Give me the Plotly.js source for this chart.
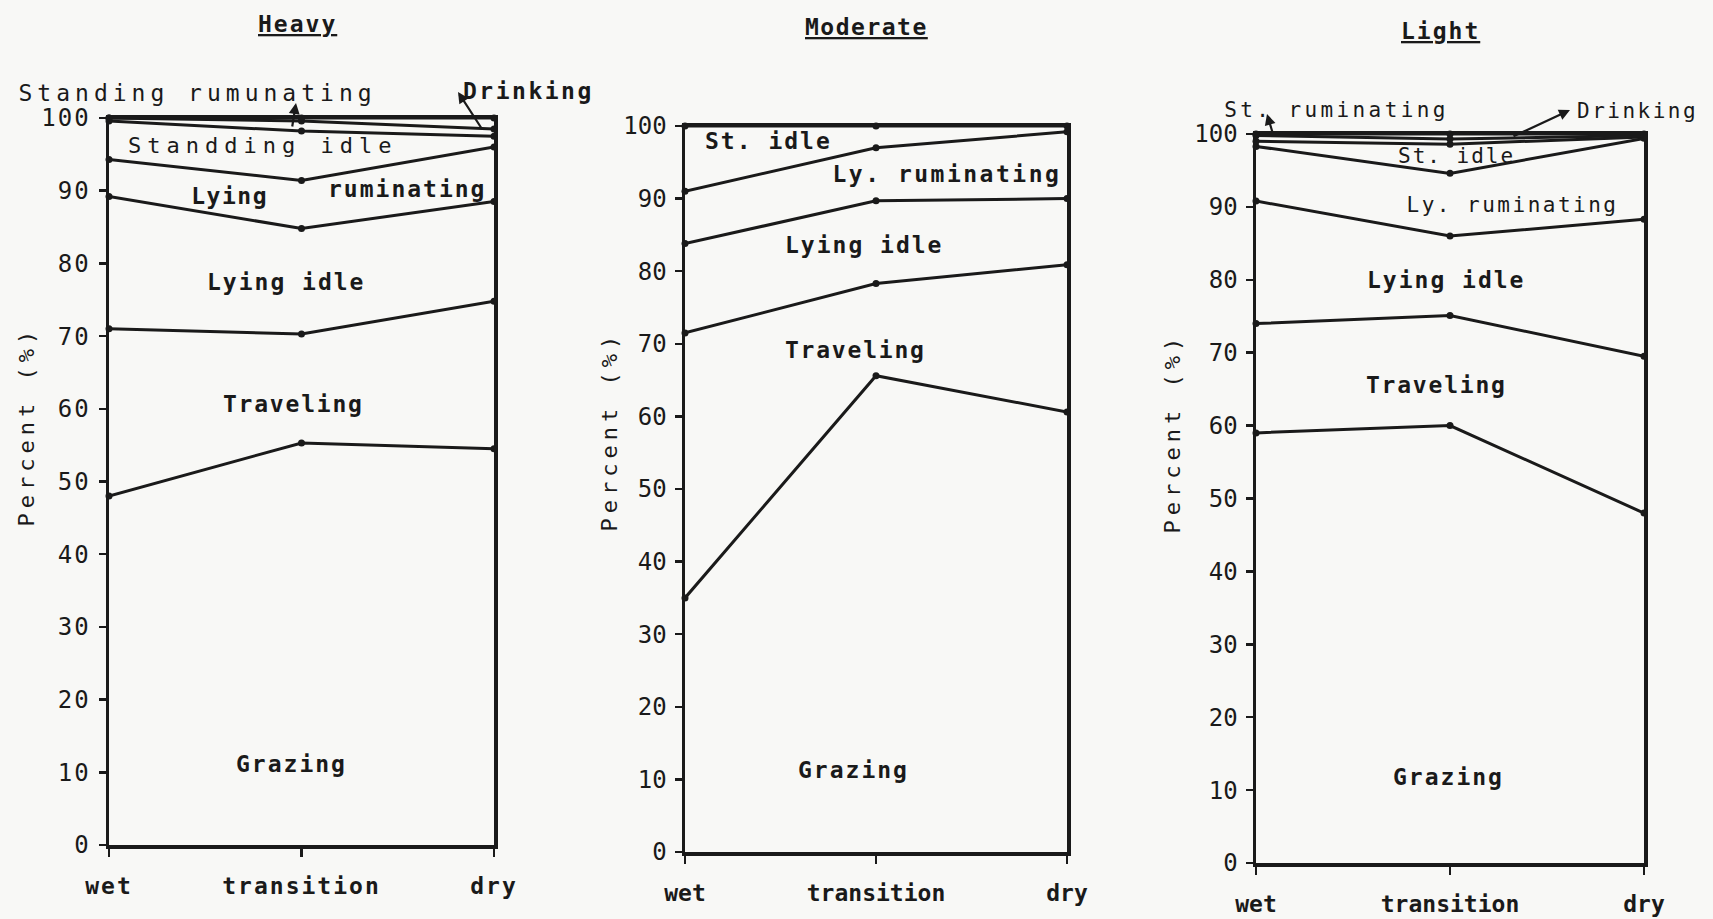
<!DOCTYPE html>
<html>
<head>
<meta charset="utf-8">
<script src="https://cdn.plot.ly/plotly-3.0.1.min.js"></script>
<style>
html,body{margin:0;padding:0;background:#f8f8f6;}
#chart .xtick text{letter-spacing:2px;}
#chart .ytick text{letter-spacing:2px;}
</style>
</head>
<body>
<div id="chart" style="width:1713px;height:919px;"></div>
<script>
// ---------------- DATA ----------------
const seasons = ['wet', 'transition', 'dry'];
const seasonPos = [0, 1, 2];
const yTicks = [0, 10, 20, 30, 40, 50, 60, 70, 80, 90, 100];

// Heavy grazing pressure (percent of time, stacked bottom to top)
const heavyNames = ['Grazing', 'Traveling', 'Lying idle', 'Lying ruminating', 'Standing idle', 'Standing ruminating', 'Drinking'];
const heavyGrazing = [48.0, 55.3, 54.5];
const heavyTraveling = [23.0, 15.0, 20.3];
const heavyLyingIdle = [18.2, 14.5, 13.7];
const heavyLyingRum = [5.1, 6.6, 7.5];
const heavyStandIdle = [5.3, 6.8, 1.5];
const heavyStandRum = [0.4, 1.4, 1.0];
const heavyDrinking = [0.0, 0.4, 1.5];

// Moderate grazing pressure
const moderateNames = ['Grazing', 'Traveling', 'Lying idle', 'Ly. ruminating', 'St. idle'];
const moderateGrazing = [35.0, 65.6, 60.6];
const moderateTraveling = [36.5, 12.7, 20.3];
const moderateLyingIdle = [12.3, 11.4, 9.1];
const moderateLyingRum = [7.2, 7.3, 9.2];
const moderateStandIdle = [9.0, 3.0, 0.8];

// Light grazing pressure
const lightNames = ['Grazing', 'Traveling', 'Lying idle', 'Ly. ruminating', 'St. idle', 'St. ruminating', 'Drinking'];
const lightGrazing = [59.0, 60.0, 48.0];
const lightTraveling = [15.0, 15.1, 21.5];
const lightLyingIdle = [16.8, 10.9, 18.8];
const lightLyingRum = [7.5, 8.6, 11.1];
const lightStandIdle = [0.7, 4.0, 0.2];
const lightStandRum = [0.8, 0.7, 0.2];
const lightDrinking = [0.2, 0.7, 0.2];

// ---------------- STYLE ----------------
const W = 1713, H = 919;
const INK = '#1a1a1a';
const MONO = '"DejaVu Sans Mono", "Liberation Mono", monospace';

function panelTraces(names, series, group, xa, ya) {
  return series.map((vals, i) => ({
    type: 'scatter',
    x: seasonPos,
    y: vals,
    name: names[i],
    stackgroup: group,
    fill: 'none',
    mode: 'lines+markers',
    line: {color: INK, width: 3},
    marker: {color: INK, size: 7},
    cliponaxis: false,
    xaxis: xa,
    yaxis: ya,
    showlegend: false,
    hovertemplate: names[i] + ': %{y:.1f}%<extra></extra>'
  }));
}

const data = [].concat(
  panelTraces(heavyNames, [heavyGrazing, heavyTraveling, heavyLyingIdle, heavyLyingRum, heavyStandIdle, heavyStandRum, heavyDrinking], 'heavy', 'x', 'y'),
  panelTraces(moderateNames, [moderateGrazing, moderateTraveling, moderateLyingIdle, moderateLyingRum, moderateStandIdle], 'moderate', 'x2', 'y2'),
  panelTraces(lightNames, [lightGrazing, lightTraveling, lightLyingIdle, lightLyingRum, lightStandIdle, lightStandRum, lightDrinking], 'light', 'x3', 'y3')
);

function xAxis(left, right, anchor) {
  return {
    domain: [left / W, right / W], anchor: anchor, range: [0, 2],
    tickvals: seasonPos, ticktext: seasons,
    showline: true, mirror: true, linecolor: INK, linewidth: 3.5,
    ticks: 'outside', ticklen: 8, tickwidth: 2.5, tickcolor: INK,
    ticklabelstandoff: 10,
    tickfont: {family: MONO, size: 23, color: INK, weight: 'bold'},
    showgrid: false, zeroline: false, automargin: false, fixedrange: true
  };
}
function yAxis(top, bottom, anchor) {
  return {
    domain: [(H - bottom) / H, (H - top) / H], anchor: anchor, range: [0, 100],
    tickvals: yTicks,
    showline: true, mirror: true, linecolor: INK, linewidth: 3.5,
    ticks: 'outside', ticklen: 7, tickwidth: 2.5, tickcolor: INK,
    ticklabelstandoff: 3,
    tickfont: {family: MONO, size: 24, color: INK},
    showgrid: false, zeroline: false, automargin: false, fixedrange: true
  };
}

// extra letter spacing (px) to imitate the typewriter lettering
const spacing = {
  'Standing rumunating': 5, 'Standding idle': 6, 'Percent (%)': 5,
  'St. ruminating': 3.4, 'Drinking': 2.5, 'Ly. ruminating': 2.5, 'St. idle': 2,
  'Lying idle': 2, 'Traveling': 1.8, 'Grazing': 2, 'ruminating': 2, 'Lying': 1.5,
  'Heavy': 2, 'Moderate': 1.5, 'Light': 2
};

function lab(text, px, py, size, bold) {
  return {xref: 'paper', yref: 'paper', x: px / W, y: 1 - py / H, text: text,
    showarrow: false, xanchor: 'center', yanchor: 'middle',
    font: {family: MONO, size: size || 23, color: INK, weight: bold === false ? 'normal' : 'bold'}};
}
function arrow(hx, hy, tx, ty) {
  // head at (hx,hy) near the label, tail on the line at (tx,ty)
  return {xref: 'paper', yref: 'paper', x: hx / W, y: 1 - hy / H, text: '',
    showarrow: true, axref: 'pixel', ayref: 'pixel', ax: tx - hx, ay: ty - hy,
    arrowhead: 2, arrowsize: 1, arrowwidth: 2.2, arrowcolor: INK, standoff: 0};
}
function ytitle(px, py) {
  return {xref: 'paper', yref: 'paper', x: px / W, y: 1 - py / H, text: 'Percent (%)',
    textangle: -90, showarrow: false, xanchor: 'center', yanchor: 'middle',
    font: {family: MONO, size: 22, color: INK}};
}

const annotations = [
  // panel titles
  lab('<u>Heavy</u>', 297, 24, 23),
  lab('<u>Moderate</u>', 866, 27, 23),
  lab('<u>Light</u>', 1440, 31, 23),
  // y titles
  ytitle(27, 426), ytitle(609, 431), ytitle(1172, 433),
  // heavy labels
  lab('Standing rumunating', 197, 93, 23, false),
  lab('Drinking', 528, 91, 23),
  arrow(296, 103, 292, 128),
  arrow(458, 92, 482, 129),
  lab('Standding idle', 262, 145, 22, false),
  lab('Lying', 229, 196, 23),
  lab('ruminating', 407, 189, 23),
  lab('Lying idle', 286, 282, 23),
  lab('Traveling', 293, 404, 23),
  lab('Grazing', 291, 764, 23),
  // moderate labels
  lab('St. idle', 768, 141, 23),
  lab('Ly. ruminating', 947, 174, 23),
  lab('Lying idle', 864, 245, 23),
  lab('Traveling', 855, 350, 23),
  lab('Grazing', 853, 770, 23),
  // light labels
  lab('St. ruminating', 1336, 110, 21, false),
  lab('Drinking', 1637, 111, 21, false),
  arrow(1267, 114, 1273, 134),
  arrow(1570, 110, 1512, 137),
  lab('St. idle', 1456, 156, 21, false),
  lab('Ly. ruminating', 1512, 205, 21, false),
  lab('Lying idle', 1446, 280, 23),
  lab('Traveling', 1436, 385, 23),
  lab('Grazing', 1448, 777, 23)
];

const layout = {
  width: W, height: H,
  margin: {l: 0, r: 0, t: 0, b: 0},
  paper_bgcolor: '#f8f8f6', plot_bgcolor: 'rgba(0,0,0,0)',
  showlegend: false,
  xaxis: xAxis(109, 494, 'y'),
  yaxis: yAxis(118, 845, 'x'),
  xaxis2: xAxis(685, 1067, 'y2'),
  yaxis2: yAxis(126, 852, 'x2'),
  xaxis3: xAxis(1256, 1644, 'y3'),
  yaxis3: yAxis(134, 863, 'x3'),
  annotations: annotations
};

Plotly.newPlot('chart', data, layout, {displayModeBar: false, staticPlot: true}).then(gd => {
  gd.querySelectorAll('.annotation-text').forEach(t => {
    const s = spacing[t.textContent.trim()];
    if (s) t.style.letterSpacing = s + 'px';
  });
});
</script>
</body>
</html>
